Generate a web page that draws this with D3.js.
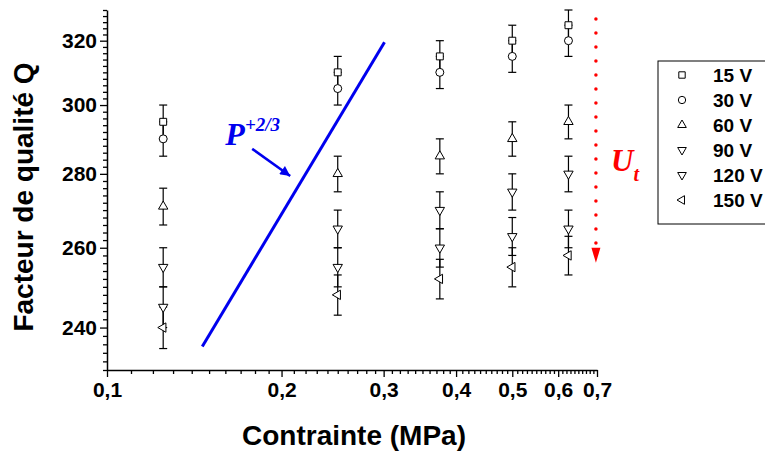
<!DOCTYPE html>
<html>
<head>
<meta charset="utf-8">
<script src="https://cdn.jsdelivr.net/npm/d3@7"></script>
<style>
  html, body { margin: 0; padding: 0; background: #fff; }
  svg { display: block; }
  .tick text { font-family: "Liberation Sans", Arial, sans-serif; font-weight: bold; }
</style>
</head>
<body>
<svg id="chart" width="765" height="453"></svg>
<script>
// ---------- data ----------
const categories = [0.125, 0.25, 0.375, 0.5, 0.625];   // Contrainte (MPa)
const seriesNames = ["15 V", "30 V", "60 V", "90 V", "120 V", "150 V"];
const q15V  = [295, 310, 315, 320, 325];
const q30V  = [290, 305, 310, 315, 320];
const q60V  = [271, 280, 285, 290, 295];
const q90V  = [255, 265, 270, 275, 280];
const q120V = [245, 255, 260, 263, 265];
const q150V = [240, 248, 252, 255, 258];
const errQ  = [5, 5, 5, 5, 5];
const xTickValues = [0.1, 0.2, 0.3, 0.4, 0.5, 0.6, 0.7];
const xTickLabels = ["0,1", "0,2", "0,3", "0,4", "0,5", "0,6", "0,7"];
const yTickValues = [240, 260, 280, 300, 320];
const yTickLabels = ["240", "260", "280", "300", "320"];
// P^{+2/3} guide line (data coordinates)
const guideX = [0.146, 0.301];
const guideY = [235.5, 319.5];

// ---------- setup ----------
const W = 765, H = 453;
const svg = d3.select("#chart");
svg.append("rect").attr("width", W).attr("height", H).attr("fill", "#fff");

const x = d3.scaleLog().domain([0.1, 0.7]).range([107, 597]);
const y = d3.scaleLog().domain([230, 330]).range([370, 10]);

const FONT = '"Liberation Sans", Arial, sans-serif';

// ---------- axes ----------
const xMinor = d3.range(10, 71).map(d => d / 100).filter(d => !xTickValues.some(v => Math.abs(v - d) < 1e-9));
const yMinor = d3.range(230, 331, 2).filter(d => !yTickValues.includes(d));

const gx = svg.append("g").attr("transform", "translate(0,370)");
gx.append("g").call(d3.axisBottom(x).tickValues(xMinor).tickSize(4).tickFormat(""))
  .call(g => g.select(".domain").remove());
gx.append("g").call(d3.axisBottom(x).tickValues(xTickValues).tickSize(7).tickSizeOuter(0).tickPadding(5)
  .tickFormat((d, i) => xTickLabels[i]))
  .call(g => g.select(".domain").attr("stroke-width", 1.5))
  .call(g => g.selectAll(".tick text").attr("font-size", 21).attr("fill", "#000"));

const gy = svg.append("g").attr("transform", "translate(107,0)");
gy.append("g").call(d3.axisLeft(y).tickValues(yMinor).tickSize(4).tickFormat(""))
  .call(g => g.select(".domain").remove());
gy.append("g").call(d3.axisLeft(y).tickValues(yTickValues).tickSize(7).tickSizeOuter(0).tickPadding(3)
  .tickFormat((d, i) => yTickLabels[i]))
  .call(g => g.select(".domain").attr("stroke-width", 1.5))
  .call(g => g.selectAll(".tick text").attr("font-size", 21).attr("fill", "#000"));

svg.selectAll(".tick line").attr("stroke", "#000").attr("stroke-width", 1.3);

// axis titles
svg.append("text").attr("x", 354).attr("y", 445).attr("text-anchor", "middle")
  .attr("font-family", FONT).attr("font-weight", "bold").attr("font-size", 28)
  .text("Contrainte (MPa)");
svg.append("text").attr("transform", "translate(33,197) rotate(-90)").attr("text-anchor", "middle")
  .attr("font-family", FONT).attr("font-weight", "bold").attr("font-size", 28)
  .text("Facteur de qualité Q");

// ---------- series ----------
const seriesValues = [q15V, q30V, q60V, q90V, q120V, q150V];
const symTypes = [d3.symbolSquare, d3.symbolCircle, d3.symbolTriangle, d3.symbolTriangle, d3.symbolTriangle, d3.symbolTriangle];
const symRot = [0, 0, 0, 180, 180, -90];
const symSize = [48, 50, 38, 38, 38, 38];

const pts = [];
seriesValues.forEach((vals, s) => vals.forEach((v, i) => pts.push({ s, x: categories[i], v, e: errQ[i] })));

const cap = 4;
const bars = svg.append("g").attr("stroke", "#000").attr("stroke-width", 1.2).attr("fill", "none");
pts.forEach(p => {
  const cx = x(p.x), y1 = y(p.v + p.e), y2 = y(p.v - p.e);
  bars.append("line").attr("x1", cx).attr("x2", cx).attr("y1", y1).attr("y2", y2);
  bars.append("line").attr("x1", cx - cap).attr("x2", cx + cap).attr("y1", y1).attr("y2", y1);
  bars.append("line").attr("x1", cx - cap).attr("x2", cx + cap).attr("y1", y2).attr("y2", y2);
});

const marks = svg.append("g");
pts.forEach(p => {
  marks.append("path")
    .attr("d", d3.symbol().type(symTypes[p.s]).size(symSize[p.s])())
    .attr("transform", `translate(${x(p.x)},${y(p.v)}) rotate(${symRot[p.s]})`)
    .attr("fill", "#fff").attr("stroke", "#000").attr("stroke-width", 1);
});

// ---------- annotations ----------
svg.append("line")
  .attr("x1", x(guideX[0])).attr("y1", y(guideY[0]))
  .attr("x2", x(guideX[1])).attr("y2", y(guideY[1]))
  .attr("stroke", "#0000ee").attr("stroke-width", 3);

// blue arrow
const defs = svg.append("defs");
defs.append("marker").attr("id", "bluehead").attr("viewBox", "0 0 10 10")
  .attr("refX", 10).attr("refY", 5).attr("markerWidth", 5).attr("markerHeight", 4)
  .attr("markerUnits", "strokeWidth").attr("orient", "auto")
  .append("path").attr("d", "M0,0 L10,5 L0,10 Z").attr("fill", "#0000ee");
const arrowFrom = [0.178, 287.1], arrowTo = [0.207, 279.4];
svg.append("line")
  .attr("x1", x(arrowFrom[0])).attr("y1", y(arrowFrom[1]))
  .attr("x2", x(arrowTo[0])).attr("y2", y(arrowTo[1]))
  .attr("stroke", "#0000ee").attr("stroke-width", 2.5).attr("marker-end", "url(#bluehead)");

const pLabel = svg.append("text").attr("x", x(0.160)).attr("y", y(288.2))
  .attr("font-family", '"Liberation Serif", "Times New Roman", serif')
  .attr("font-weight", "bold").attr("font-style", "italic").attr("fill", "#0000ee");
pLabel.append("tspan").attr("font-size", 32).text("P");
pLabel.append("tspan").attr("font-size", 19).attr("dy", -14).text("+2/3");

// red dotted arrow (U_t)
const utX = 0.697, utTop = 327, utBottom = 256.1;
svg.append("line")
  .attr("x1", x(utX)).attr("x2", x(utX))
  .attr("y1", y(utTop)).attr("y2", y(utBottom) - 16)
  .attr("stroke", "#ff0000").attr("stroke-width", 3.5)
  .attr("stroke-linecap", "round").attr("stroke-dasharray", "0 14");
const ux = x(utX), uy = y(utBottom);
svg.append("path")
  .attr("d", `M${ux - 4.5},${uy - 15} L${ux + 4.5},${uy - 15} L${ux},${uy} Z`)
  .attr("fill", "#ff0000");
const uLabel = svg.append("text").attr("x", x(0.74)).attr("y", y(280.9))
  .attr("font-family", '"Liberation Serif", "Times New Roman", serif')
  .attr("font-weight", "bold").attr("font-style", "italic").attr("fill", "#ff0000");
uLabel.append("tspan").attr("font-size", 31).text("U");
uLabel.append("tspan").attr("font-size", 20).attr("dy", 10).text("t");

// ---------- legend ----------
const leg = svg.append("g");
leg.append("rect").attr("x", 658).attr("y", 61).attr("width", 120).attr("height", 163)
  .attr("fill", "#fff").attr("stroke", "#000").attr("stroke-width", 1);
seriesNames.forEach((name, s) => {
  const ly = 75 + s * 25;
  leg.append("path")
    .attr("d", d3.symbol().type(symTypes[s]).size(symSize[s] * 0.85)())
    .attr("transform", `translate(682,${ly}) rotate(${symRot[s]})`)
    .attr("fill", "#fff").attr("stroke", "#000").attr("stroke-width", 1);
  leg.append("text").attr("x", 713).attr("y", ly + 7)
    .attr("font-family", FONT).attr("font-weight", "bold").attr("font-size", 19)
    .text(name);
});
</script>
</body>
</html>
